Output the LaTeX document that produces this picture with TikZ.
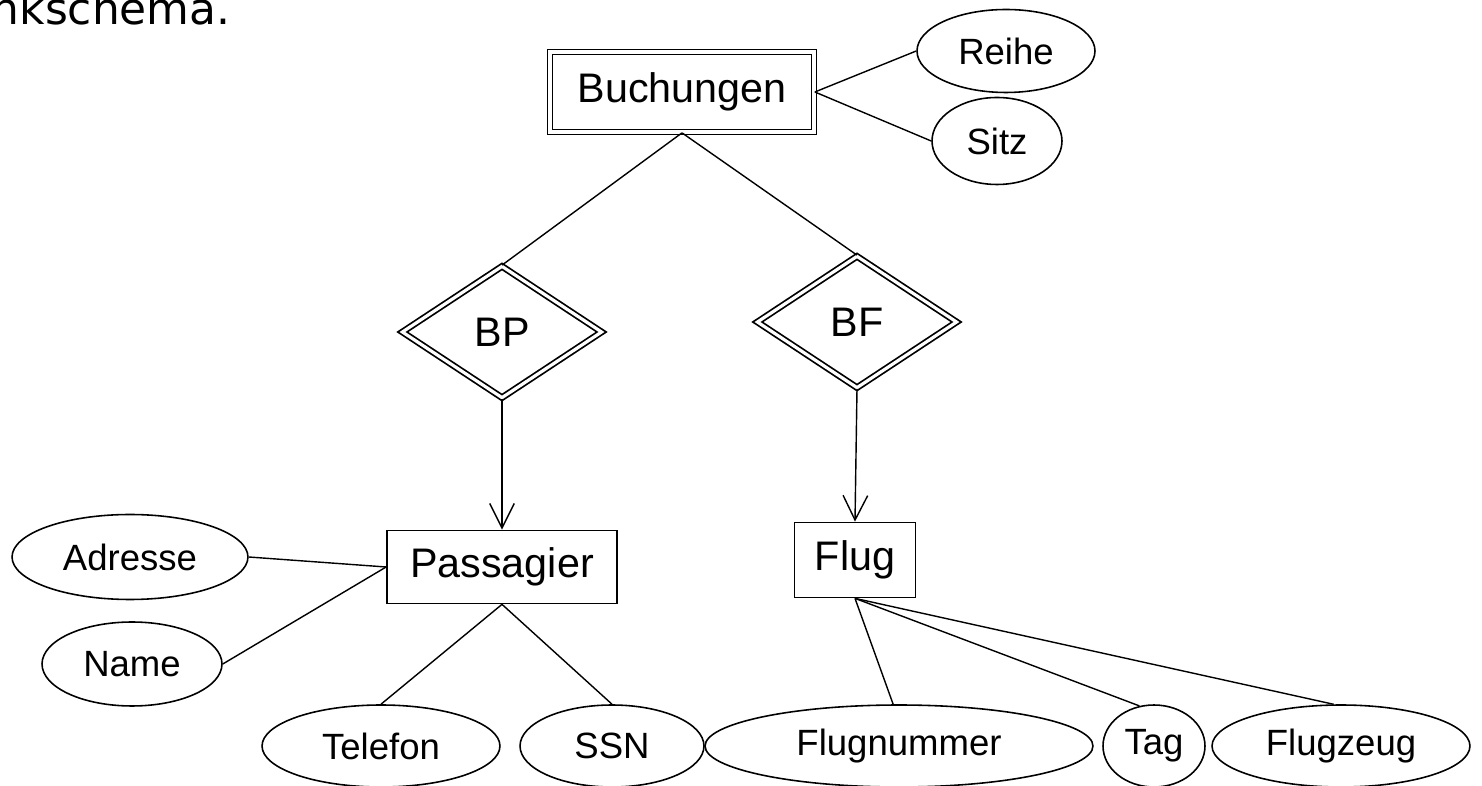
\documentclass[tikz,border=0pt]{standalone}
\usepackage{fontspec}
\setmainfont{Liberation Sans}
\newfontfamily\headfont{DejaVu Sans}
\usepackage{tikz}
\usetikzlibrary{positioning}
\usetikzlibrary{arrows.meta}
\usetikzlibrary{shapes.geometric}

\begin{document}
\begin{tikzpicture}[x=0.02cm, y=-0.02cm,
			>={Straight Barb[length=14pt, width=14pt]},
			entnode/.style={rectangle, draw=black, line width=1pt, inner sep=0pt, font=\fontsize{23.5}{28}\selectfont},
			weaknode/.style={entnode, double, double distance=1.8pt},
			relnode/.style={diamond, draw=black, line width=1pt, double, double distance=1.8pt, inner sep=0pt, minimum width=4cm, minimum height=2.64cm, font=\fontsize{23.5}{28}\selectfont},
			attrnode/.style={ellipse, draw=black, line width=0.9pt, inner sep=0pt, minimum height=1.64cm, font=\fontsize{20.8}{25}\selectfont}
			]
			
			\useasboundingbox (0,0) rectangle (1482,786);
			
			\node[anchor=base east, inner sep=0pt, font=\headfont\fontsize{25}{30}\selectfont] at (231, 25) (title) {nkschema.};
			
			\node[weaknode, minimum width=5.28cm, minimum height=1.6cm] at (682, 92) (buch) {Buchungen};
			\node[attrnode, minimum width=3.56cm, minimum height=1.66cm] at (1006, 51) (reihe) {Reihe};
			\node[attrnode, minimum width=2.6cm, minimum height=1.74cm] at (997, 141) (sitz) {Sitz};
			
			\node[relnode] at (502, 332) (bp) {BP};
			\node[relnode] at (857, 322) (bf) {BF};
			
			\node[entnode, minimum width=4.6cm, minimum height=1.46cm] at (502, 567) (pass) {Passagier};
			\node[entnode, minimum width=2.42cm, minimum height=1.5cm] at (855, 560) (flug) {Flug};
			
			\node[attrnode, minimum width=4.72cm, minimum height=1.7cm] at (130, 557) (adresse) {Adresse};
			\node[attrnode, minimum width=3.6cm, minimum height=1.68cm] at (132, 664) (name) {Name};
			\node[attrnode, minimum width=4.76cm] at (381, 746) (telefon) {Telefon};
			\node[attrnode, minimum width=3.68cm] at (612, 746) (ssn) {SSN};
			\node[attrnode, minimum width=7.76cm] at (899, 746) (flugnr) {Flugnummer};
			\node[attrnode, minimum width=2.04cm] at (1154, 746) (tag) {Tag};
			\node[attrnode, minimum width=5.16cm] at (1341, 746) (flugzeug) {Flugzeug};
			
			\draw[-, thick] (buch.east) -- (reihe.west);
			\draw[-, thick] (buch.east) -- (sitz.west);
			\draw[-, thick] (buch.south) -- (bp.north);
			\draw[-, thick] (buch.south) -- (bf.north);
			
			\draw[->, thick] (bp.south) -- (pass.north);
			\draw[->, thick] (bf.south) -- (flug.north);
			
			\draw[-, thick] (adresse.east) -- (pass.west);
			\draw[-, thick] (name.east) -- (pass.west);
			\draw[-, thick] (pass.south) -- (telefon.north);
			\draw[-, thick] (pass.south) -- (ssn.north);
			
			\draw[-, thick] (flug.south) -- (flugnr.98);
			\draw[-, thick] (flug.south) -- (tag.110);
			\draw[-, thick] (flug.south) -- (flugzeug.100);
		\end{tikzpicture}
\end{document}
